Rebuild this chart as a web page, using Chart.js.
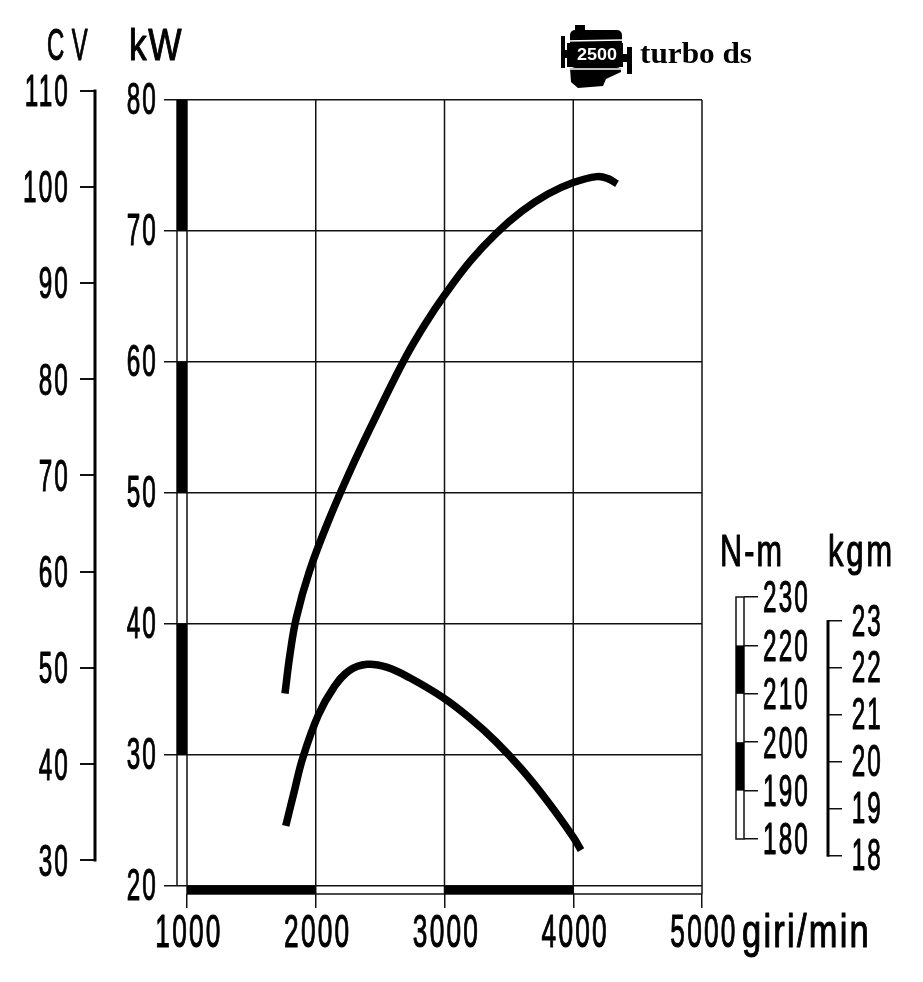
<!DOCTYPE html>
<html>
<head>
<meta charset="utf-8">
<style>
  html, body { margin: 0; padding: 0; background: #fff; }
  #wrap { width: 923px; height: 982px; }
</style>
<script src="https://cdn.jsdelivr.net/npm/chart.js@4"></script>
</head>
<body>
<div id="wrap"><canvas id="chart" width="923" height="982"></canvas></div>
<script>
const rpmTicks = [1000, 2000, 3000, 4000, 5000];
const kwTicks = [20, 30, 40, 50, 60, 70, 80];
const cvTicks = [30, 40, 50, 60, 70, 80, 90, 100, 110];
const nmTicks = [180, 190, 200, 210, 220, 230];
const kgmTicks = [18, 19, 20, 21, 22, 23];

// potenza: giri, kW
const powerRpm = [1761, 1800, 1850, 1950, 2100, 2300, 2500, 2700, 2850, 3000, 3200, 3400, 3600, 3800, 4000, 4184, 4270, 4340];
const powerKw = [34.7, 37.7, 40.5, 44, 47.9, 52.4, 56.5, 60.4, 62.9, 65.1, 67.7, 69.8, 71.5, 72.8, 73.7, 74.15, 74, 73.6];

// coppia: giri, N-m
const torqueRpm = [1767, 1830, 1900, 2020, 2140, 2260, 2400, 2550, 2730, 3000, 3200, 3400, 3600, 3800, 4000, 4060];
const torqueNm = [182.7, 189.5, 196.8, 205.6, 211.3, 214.8, 216.1, 215.5, 213.3, 209, 204.9, 200.1, 194.4, 187.8, 180.4, 177.7];

// bande nere sulle scale
const kwBands = [[70, 80], [50, 60], [30, 40]];
const rpmBands = [[1000, 2000], [3000, 4000]];
const nmBands = [[210, 220], [190, 200]];

const PX_PER_RPM = 0.12875;
const rpmAt = px => 1000 + (px - 187) / PX_PER_RPM;
const fixedTicks = list => scale => { scale.ticks = list.map(v => ({ value: v })); };
const noPadding = s => { s.paddingTop = s.paddingBottom = s.paddingLeft = s.paddingRight = 0; };

const SANS = "'Liberation Sans', sans-serif";

// testo stretto: il font installato e' piu' largo di quello della stampa
function narrowText(ctx, text, x, y, { size = 45, squeeze = 0.54, align = 'left', width = 0, spacing = 4, heavy = 1.1, font = `${size}px ${SANS}` } = {}) {
  ctx.save();
  ctx.font = font;
  ctx.letterSpacing = spacing + 'px';
  const sx = width ? width / ctx.measureText(text).width : squeeze;
  ctx.translate(x, y);
  ctx.scale(sx, 1);
  ctx.textAlign = align;
  ctx.fillText(text, 0, 0);
  if (heavy) {
    ctx.strokeStyle = ctx.fillStyle;
    ctx.lineWidth = heavy;
    ctx.lineJoin = 'round';
    ctx.strokeText(text, 0, 0);
  }
  ctx.restore();
}

function yLabels(ctx, scale, right, nudge) {
  ctx.textBaseline = 'middle';
  scale.ticks.forEach(t => {
    narrowText(ctx, String(t.value), right, scale.getPixelForValue(t.value) + nudge, { align: 'right' });
  });
  ctx.textBaseline = 'alphabetic';
}

function spine(ctx, scale, px, lo, hi, w) {
  ctx.fillRect(px - w / 2, scale.getPixelForValue(hi) - 1, w, scale.getPixelForValue(lo) - scale.getPixelForValue(hi) + 2);
}

/* ── Griglia verticale, bande, scritte ── */
const paperPlugin = {
  id: 'paper',
  beforeDatasetsDraw(chart) {
    const { ctx, scales: { x, kw } } = chart;
    const l = x.getPixelForValue(1000);
    const y0 = kw.getPixelForValue(20);
    ctx.save();
    ctx.strokeStyle = '#111';
    ctx.lineWidth = 1.5;
    rpmTicks.forEach(r => {
      ctx.beginPath();
      ctx.moveTo(x.getPixelForValue(r), kw.getPixelForValue(80));
      ctx.lineTo(x.getPixelForValue(r), y0 + 8);
      ctx.stroke();
    });
    // striscia kW
    ctx.beginPath();
    ctx.moveTo(l - 10, kw.getPixelForValue(80));
    ctx.lineTo(l - 10, y0);
    ctx.stroke();
    ctx.fillStyle = '#000';
    kwBands.forEach(([a, b]) => {
      const top = kw.getPixelForValue(b);
      ctx.fillRect(l - 10, top, 10, kw.getPixelForValue(a) - top);
    });
    // striscia giri
    ctx.beginPath();
    ctx.moveTo(l, y0 + 8);
    ctx.lineTo(x.getPixelForValue(5000), y0 + 8);
    ctx.stroke();
    rpmBands.forEach(([a, b]) => {
      const left = x.getPixelForValue(a);
      ctx.fillRect(left, y0, x.getPixelForValue(b) - left, 8);
    });
    ctx.restore();
  },
  afterDraw(chart) {
    const { ctx, scales: { x, kw, cv, nm, kgm } } = chart;
    ctx.save();
    ctx.fillStyle = '#000';
    spine(ctx, cv, 95, 30, 110, 3);
    spine(ctx, kgm, 828, 18, 23, 3);

    // striscia N-m
    const r = x.getPixelForValue(rpmAt(744));
    const t = nm.getPixelForValue(230), b = nm.getPixelForValue(180);
    ctx.strokeStyle = '#111';
    ctx.lineWidth = 1.5;
    ctx.strokeRect(r - 8, t, 8, b - t);
    nmBands.forEach(([a, c]) => {
      const top = nm.getPixelForValue(c);
      ctx.fillRect(r - 8, top, 8, nm.getPixelForValue(a) - top);
    });

    // etichette
    yLabels(ctx, cv, 70, 3);
    yLabels(ctx, kw, 158, 2);
    yLabels(ctx, nm, 810, 3);
    yLabels(ctx, kgm, 883, 2);
    x.ticks.forEach(tk => {
      narrowText(ctx, String(tk.value), x.getPixelForValue(tk.value) + 2, 947, { size: 46, squeeze: 0.57, align: 'center' });
    });

    // titoli
    narrowText(ctx, 'CV', 47, 60, { size: 45, width: 48, spacing: 14 });
    narrowText(ctx, 'kW', 129, 60, { size: 45, width: 54, spacing: 2 });
    narrowText(ctx, 'N-m', 720, 566, { size: 45, width: 64, spacing: 3 });
    narrowText(ctx, 'kgm', 828, 566, { size: 45, width: 67, spacing: 4 });
    narrowText(ctx, 'giri/min', 742, 947, { size: 46, width: 129, spacing: 3 });
    narrowText(ctx, 'turbo ds', 640, 63, { font: "bold 30px 'Liberation Serif', serif", width: 112, spacing: 0, heavy: 0 });
    drawEngine(ctx);
    ctx.restore();
  },
};

function drawEngine(ctx) {
  ctx.fillStyle = '#000';
  ctx.fillRect(575, 25, 10, 6);
  ctx.beginPath();
  ctx.roundRect(570, 30, 52, 38, 5);
  ctx.fill();
  ctx.fillRect(567, 43, 56, 24);
  ctx.beginPath();
  ctx.moveTo(570, 68);
  ctx.lineTo(621, 68);
  ctx.lineTo(621, 72);
  ctx.lineTo(606, 79);
  ctx.lineTo(603, 86);
  ctx.lineTo(578, 88);
  ctx.lineTo(571, 82);
  ctx.closePath();
  ctx.fill();
  ctx.fillRect(561, 36, 4, 32);
  ctx.fillRect(627, 47, 5, 27);
  ctx.fillRect(565, 50, 3, 8);
  ctx.fillRect(623, 54, 4, 8);
  ctx.strokeStyle = '#fff';
  ctx.lineWidth = 1.5;
  ctx.beginPath();
  ctx.moveTo(566, 41);
  ctx.lineTo(623, 40);
  ctx.moveTo(566, 69);
  ctx.lineTo(623, 69);
  ctx.stroke();
  ctx.fillStyle = '#fff';
  narrowText(ctx, '2500', 597, 60, { font: `bold 16px ${SANS}`, width: 40, align: 'center', spacing: 0, heavy: 0 });
  ctx.fillStyle = '#000';
}

new Chart(document.getElementById('chart'), {
  type: 'line',
  data: {
    datasets: [
      {
        label: 'Potenza',
        data: powerRpm.map((r, i) => ({ x: r, y: powerKw[i] })),
        yAxisID: 'kw',
        borderColor: '#000',
        borderWidth: 7.5,
        pointRadius: 0,
        tension: 0.4,
      },
      {
        label: 'Coppia',
        data: torqueRpm.map((r, i) => ({ x: r, y: torqueNm[i] })),
        yAxisID: 'nm',
        borderColor: '#000',
        borderWidth: 7.5,
        pointRadius: 0,
        tension: 0.4,
      },
    ],
  },
  options: {
    responsive: false,
    animation: false,
    layout: { padding: { left: 177, top: 85, right: 221, bottom: 0 } },
    plugins: { legend: { display: false }, tooltip: { enabled: false } },
    scales: {
      x: {
        type: 'linear',
        position: 'bottom',
        min: rpmAt(177),
        max: 5000,
        afterBuildTicks: fixedTicks(rpmTicks),
        afterFit: s => { noPadding(s); s.height = 88; },
        border: { display: false },
        grid: { drawOnChartArea: false, color: '#111', lineWidth: 1.5, tickLength: 14 },
        ticks: { display: false },
      },
      kw: {
        type: 'linear',
        axis: 'y',
        position: { x: rpmAt(177) },
        min: 20 - 8 / 13.1,
        max: 80 + 15 / 13.1,
        afterBuildTicks: fixedTicks(kwTicks),
        afterFit: noPadding,
        border: { display: false },
        grid: { color: '#111', lineWidth: 1.5, tickLength: 13 },
        ticks: { display: false },
      },
      cv: {
        type: 'linear',
        axis: 'y',
        position: { x: rpmAt(95) },
        min: 30 - (894 - 860.5) / 9.62,
        max: 110 + 5.5 / 9.62,
        afterBuildTicks: fixedTicks(cvTicks),
        afterFit: noPadding,
        border: { display: false },
        grid: { drawOnChartArea: false, color: '#111', lineWidth: 2, tickLength: 15 },
        ticks: { display: false },
      },
      nm: {
        type: 'linear',
        axis: 'y',
        position: { x: rpmAt(744) },
        min: 180 - (894 - 839) / 4.84,
        max: 230 + (597 - 85) / 4.84,
        afterBuildTicks: fixedTicks(nmTicks),
        afterFit: noPadding,
        border: { display: false },
        grid: { drawOnChartArea: false, color: '#111', lineWidth: 1.5, tickLength: -14 },
        ticks: { display: false },
      },
      kgm: {
        type: 'linear',
        axis: 'y',
        position: { x: rpmAt(828) },
        min: 18 - (894 - 855.7) / 46.9,
        max: 23 + (621 - 85) / 46.9,
        afterBuildTicks: fixedTicks(kgmTicks),
        afterFit: noPadding,
        border: { display: false },
        grid: { drawOnChartArea: false, color: '#111', lineWidth: 1.5, tickLength: -14 },
        ticks: { display: false },
      },
    },
  },
  plugins: [paperPlugin],
});
</script>
</body>
</html>
